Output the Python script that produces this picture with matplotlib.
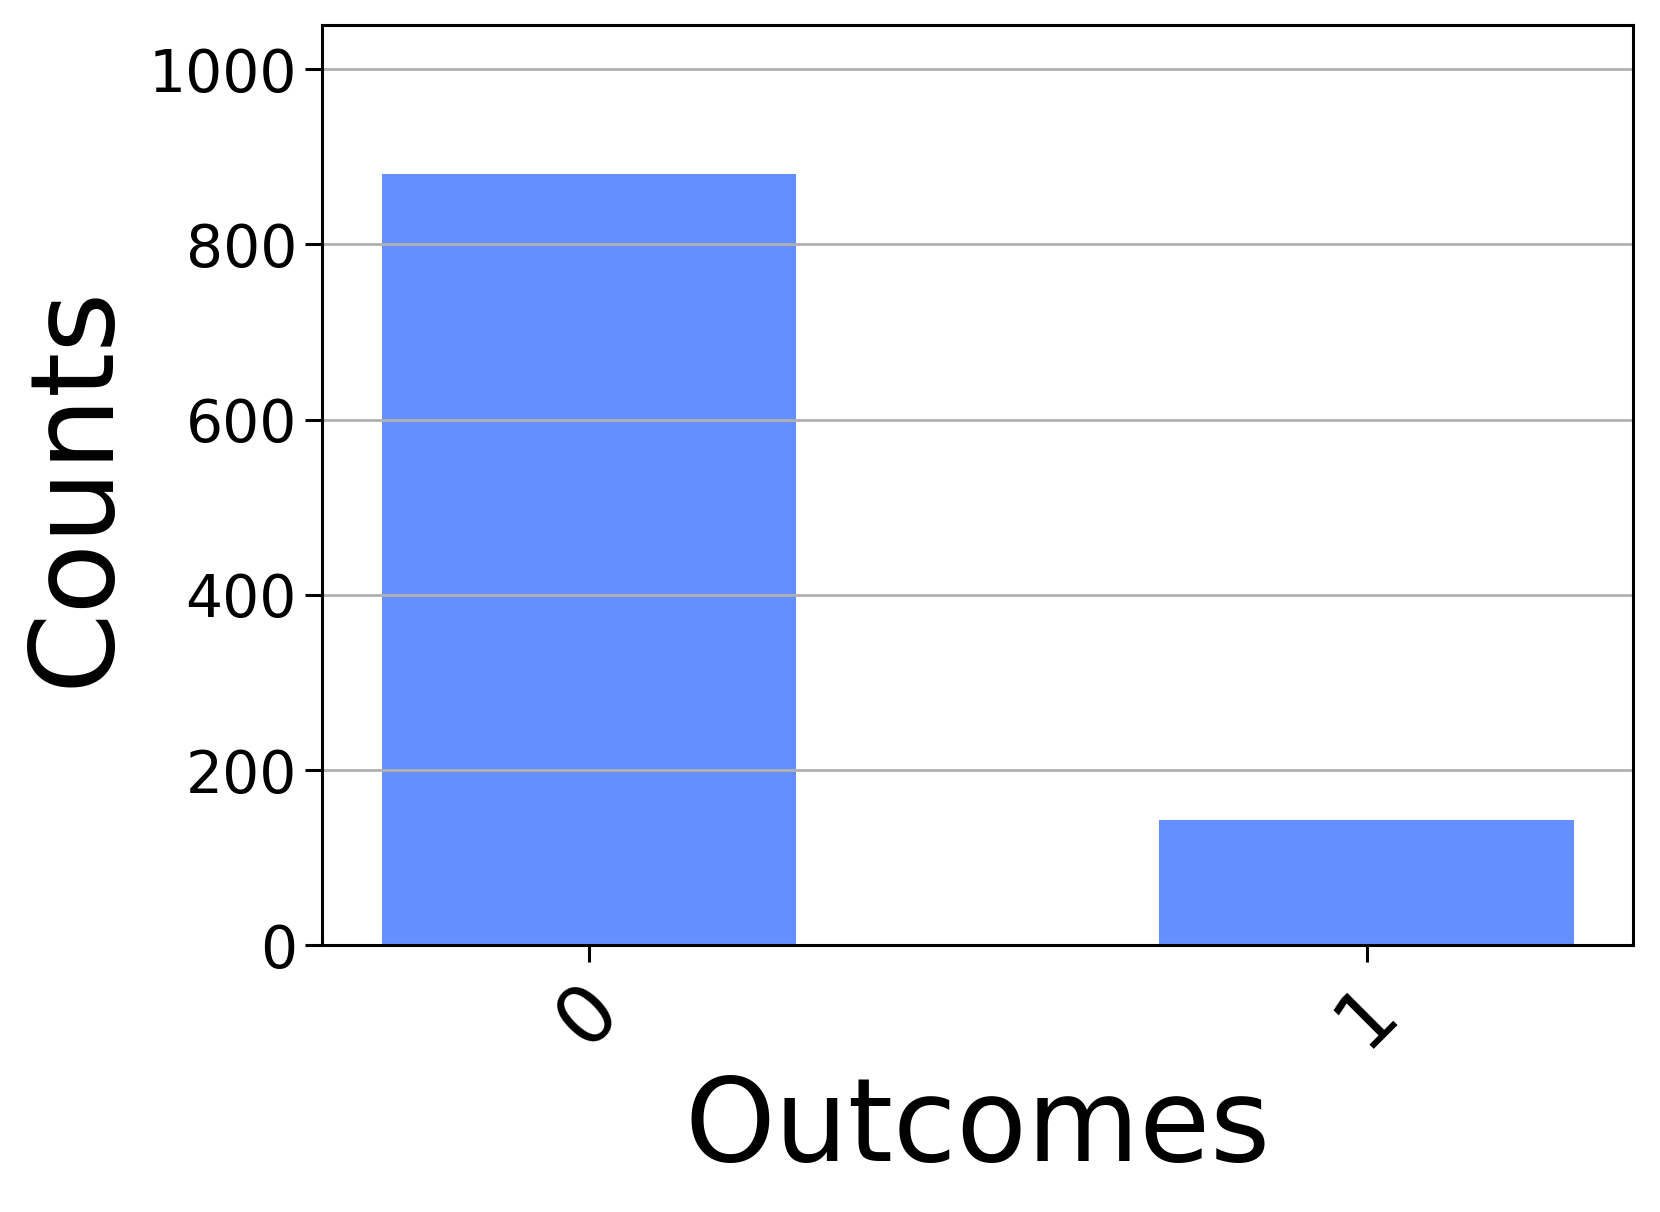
import matplotlib
matplotlib.use("Agg")
import matplotlib.pyplot as plt
import numpy as np

# measured outcome counts
outcomes = ["0", "1"]
counts = [881, 143]
yticks = [0, 200, 400, 600, 800, 1000]

fig = plt.figure(figsize=(16.6, 12.12), dpi=100)
ax = fig.add_axes([0.194, 0.22, 0.79, 0.759])

x = np.arange(len(outcomes))
ax.bar(x, counts, width=0.533, color="#648fff")

ax.set_xlim(-0.343, 1.343)
ax.set_ylim(0, 1050)
ax.set_xticks(x)
ax.set_xticklabels(outcomes, rotation=45, ha="center", fontsize=58)
ax.set_yticks(yticks)
ax.set_yticklabels([str(v) for v in yticks], fontsize=42)
ax.tick_params(axis="both", length=12, width=2.2, pad=6)

ax.yaxis.grid(True, color="#b0b0b0", linewidth=2)
for s in ax.spines.values():
    s.set_linewidth(2.2)

ax.set_xlabel("Outcomes", fontsize=83, labelpad=8)
ax.set_ylabel("Counts", fontsize=83, labelpad=12)

fig.savefig("out.png", dpi=100)
